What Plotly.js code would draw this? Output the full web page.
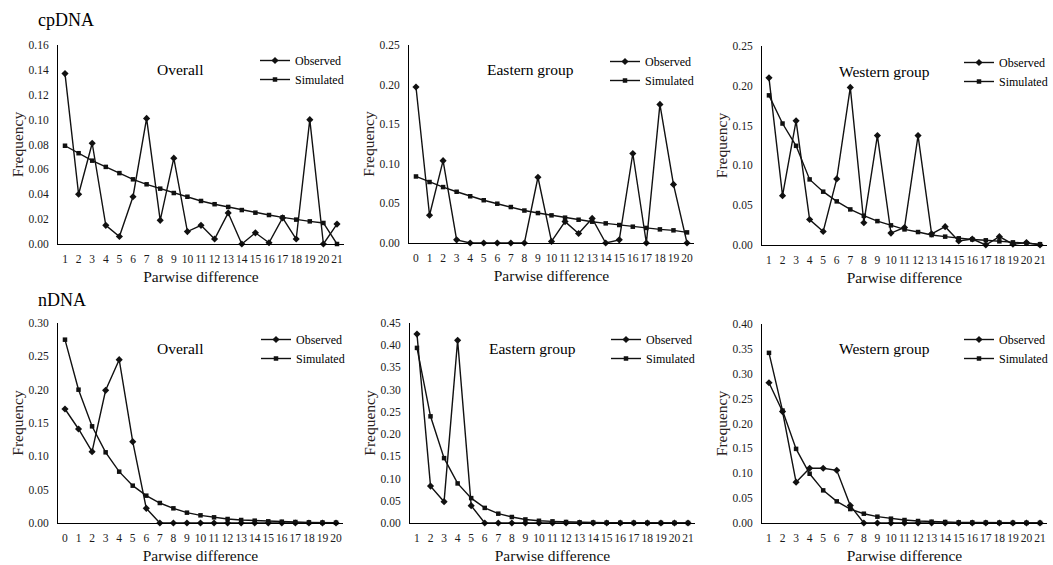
<!DOCTYPE html>
<html>
<head>
<meta charset="utf-8">
<script src="https://cdn.plot.ly/plotly-3.0.1.min.js"></script>
<style>html,body{margin:0;padding:0;background:#fff;}#chart{width:1053px;height:565px;}</style>
</head>
<body>
<div id="chart"></div>
<script>
// ---- Data ----
const cpOverallCats  = ["1","2","3","4","5","6","7","8","9","10","11","12","13","14","15","16","17","18","19","20","21"];
const cpOverallObs   = [0.137,0.040,0.081,0.015,0.006,0.038,0.101,0.019,0.069,0.010,0.015,0.004,0.025,0.000,0.009,0.001,0.021,0.004,0.100,0.000,0.016];
const cpOverallSim   = [0.079,0.073,0.067,0.062,0.057,0.052,0.048,0.0445,0.041,0.038,0.0346,0.032,0.0298,0.0273,0.0252,0.0233,0.0214,0.0196,0.0182,0.0169,0.000];

const cpEastCats = ["0","1","2","3","4","5","6","7","8","9","10","11","12","13","14","15","16","17","18","19","20"];
const cpEastObs  = [0.197,0.035,0.104,0.004,0,0,0,0,0,0.083,0.002,0.027,0.012,0.031,0,0.004,0.113,0,0.175,0.074,0];
const cpEastSim  = [0.084,0.077,0.0706,0.0647,0.059,0.054,0.0496,0.0454,0.041,0.0378,0.0349,0.032,0.0294,0.0269,0.0248,0.0227,0.0206,0.019,0.0172,0.016,0.0134];

const cpWestCats = ["1","2","3","4","5","6","7","8","9","10","11","12","13","14","15","16","17","18","19","20","21"];
const cpWestObs  = [0.210,0.062,0.156,0.032,0.017,0.083,0.198,0.028,0.1375,0.015,0.022,0.1375,0.014,0.023,0.005,0.0075,0,0.0105,0.001,0.003,0];
const cpWestSim  = [0.188,0.1526,0.1246,0.0824,0.067,0.0548,0.0447,0.0368,0.030,0.0247,0.0196,0.0163,0.0125,0.0105,0.0084,0.007,0.0059,0.0046,0.0033,0.002,0.001];

const nOverallCats = ["0","1","2","3","4","5","6","7","8","9","10","11","12","13","14","15","16","17","18","19","20"];
const nOverallObs  = [0.171,0.141,0.107,0.199,0.245,0.122,0.022,0,0,0,0,0,0,0,0,0,0,0,0,0,0];
const nOverallSim  = [0.275,0.200,0.145,0.106,0.077,0.056,0.041,0.030,0.022,0.0155,0.0115,0.0085,0.006,0.0045,0.0035,0.0025,0.002,0.0015,0.001,0.0007,0.0005];

const nEastCats = ["1","2","3","4","5","6","7","8","9","10","11","12","13","14","15","16","17","18","19","20","21"];
const nEastObs  = [0.425,0.083,0.048,0.411,0.039,0,0,0,0,0,0,0,0,0,0,0,0,0,0,0,0];
const nEastSim  = [0.394,0.240,0.146,0.089,0.056,0.034,0.021,0.0135,0.008,0.005,0.0037,0.0023,0.0015,0.001,0.0007,0.0005,0.0004,0.0003,0.0002,0.0002,0.0001];

const nWestCats = ["1","2","3","4","5","6","7","8","9","10","11","12","13","14","15","16","17","18","19","20","21"];
const nWestObs  = [0.282,0.224,0.082,0.110,0.110,0.106,0.035,0,0,0,0,0,0,0,0,0,0,0,0,0,0];
const nWestSim  = [0.342,0.226,0.149,0.099,0.0656,0.0435,0.028,0.0187,0.0127,0.0087,0.006,0.004,0.0027,0.002,0.0013,0.001,0.0008,0.0006,0.0004,0.0003,0.0002];

const panelNames = ["Overall","Eastern group","Western group","Overall","Eastern group","Western group"];
const seriesNames = ["Observed","Simulated"];
const yMax = [0.16,0.25,0.25,0.30,0.45,0.40];
const yStep = [0.02,0.05,0.05,0.05,0.05,0.05];

// ---- Layout geometry (pixels) ----
const W = 1053, H = 565;
const panels = [
  {cats: cpOverallCats, obs: cpOverallObs, sim: cpOverallSim, x0: 58.2, x1: 343.8, yt: 45,  yb: 244, lx: 255, ly: 46},
  {cats: cpEastCats,    obs: cpEastObs,    sim: cpEastSim,    x0: 409.2, x1: 693.8, yt: 45, yb: 243, lx: 605, ly: 47},
  {cats: cpWestCats,    obs: cpWestObs,    sim: cpWestSim,    x0: 762.2, x1: 1046.8, yt: 46, yb: 245, lx: 959, ly: 48},
  {cats: nOverallCats,  obs: nOverallObs,  sim: nOverallSim,  x0: 58.2, x1: 342.8, yt: 323, yb: 523, lx: 256, ly: 325},
  {cats: nEastCats,     obs: nEastObs,     sim: nEastSim,     x0: 410.2, x1: 694.8, yt: 323, yb: 523, lx: 606, ly: 325},
  {cats: nWestCats,     obs: nWestObs,     sim: nWestSim,     x0: 762.2, x1: 1046.8, yt: 324, yb: 523, lx: 959, ly: 325}
];
const labelCenters = [[180,70],[530,70],[884,71],[180,348],[532,348],[884,348]];

const FONT = "'Liberation Serif'";
const ink = "#111";
const traces = [];
const layout = {
  width: W, height: H,
  margin: {l:0, r:0, t:0, b:0},
  paper_bgcolor: "#fff", plot_bgcolor: "#fff",
  font: {family: FONT, color: "#000"},
  annotations: [
    {text: "cpDNA", x: 36/W, y: 1-20/H, xref: "paper", yref: "paper", xanchor: "left", yanchor: "middle", showarrow: false, font: {family: FONT, size: 18, color: "#000"}},
    {text: "nDNA",  x: 36/W, y: 1-300/H, xref: "paper", yref: "paper", xanchor: "left", yanchor: "middle", showarrow: false, font: {family: FONT, size: 18, color: "#000"}}
  ]
};

panels.forEach((p, i) => {
  const n = i + 1;
  const xa = n === 1 ? "x" : "x" + n;
  const ya = n === 1 ? "y" : "y" + n;
  const lg = n === 1 ? "legend" : "legend" + n;
  traces.push({
    x: p.cats, y: p.obs, name: seriesNames[0], type: "scatter", mode: "lines+markers",
    xaxis: xa, yaxis: ya, legend: lg, cliponaxis: false,
    line: {color: ink, width: 1.4},
    marker: {symbol: "diamond", size: 5.5, color: ink}
  });
  traces.push({
    x: p.cats, y: p.sim, name: seriesNames[1], type: "scatter", mode: "lines+markers",
    xaxis: xa, yaxis: ya, legend: lg, cliponaxis: false,
    line: {color: ink, width: 1.4},
    marker: {symbol: "square", size: 4.5, color: ink}
  });
  layout["xaxis" + (n === 1 ? "" : n)] = {
    domain: [p.x0 / W, p.x1 / W], anchor: ya, type: "category",
    categoryorder: "array", categoryarray: p.cats,
    range: [-0.5, p.cats.length - 0.5],
    tickmode: "array", tickvals: p.cats, ticktext: p.cats, tickangle: 0,
    showline: true, linecolor: "#000", linewidth: 1.2, showgrid: false, zeroline: false,
    ticks: "", ticklabelstandoff: 4,
    tickfont: {family: FONT, size: 11.5, color: "#1a1a1a"},
    title: {text: "Parwise difference", font: {family: FONT, size: 15.5, color: "#111"}, standoff: 7},
    fixedrange: true
  };
  layout["yaxis" + (n === 1 ? "" : n)] = {
    domain: [1 - p.yb / H, 1 - p.yt / H], anchor: xa,
    range: [0, yMax[i]], dtick: yStep[i], tick0: 0, tickformat: ".2f",
    showline: true, linecolor: "#000", linewidth: 1.2, showgrid: false, zeroline: false,
    ticks: "", ticklabelstandoff: 6,
    tickfont: {family: FONT, size: 11.5, color: "#1a1a1a"},
    title: {text: "Frequency", font: {family: FONT, size: 15.5, color: "#2a2222"}, standoff: 1},
    fixedrange: true
  };
  layout[lg] = {
    x: p.lx / W, y: 1 - p.ly / H, xanchor: "left", yanchor: "top",
    bgcolor: "rgba(0,0,0,0)", borderwidth: 0,
    font: {family: FONT, size: 12, color: "#000"},
    tracegroupgap: 0, itemwidth: 30
  };
  layout.annotations.push({
    text: panelNames[i], x: labelCenters[i][0] / W, y: 1 - labelCenters[i][1] / H,
    xref: "paper", yref: "paper", xanchor: "center", yanchor: "middle", showarrow: false,
    font: {family: FONT, size: 15.5, color: "#000"}
  });
});

Plotly.newPlot("chart", traces, layout, {displayModeBar: false, staticPlot: true});
</script>
</body>
</html>
